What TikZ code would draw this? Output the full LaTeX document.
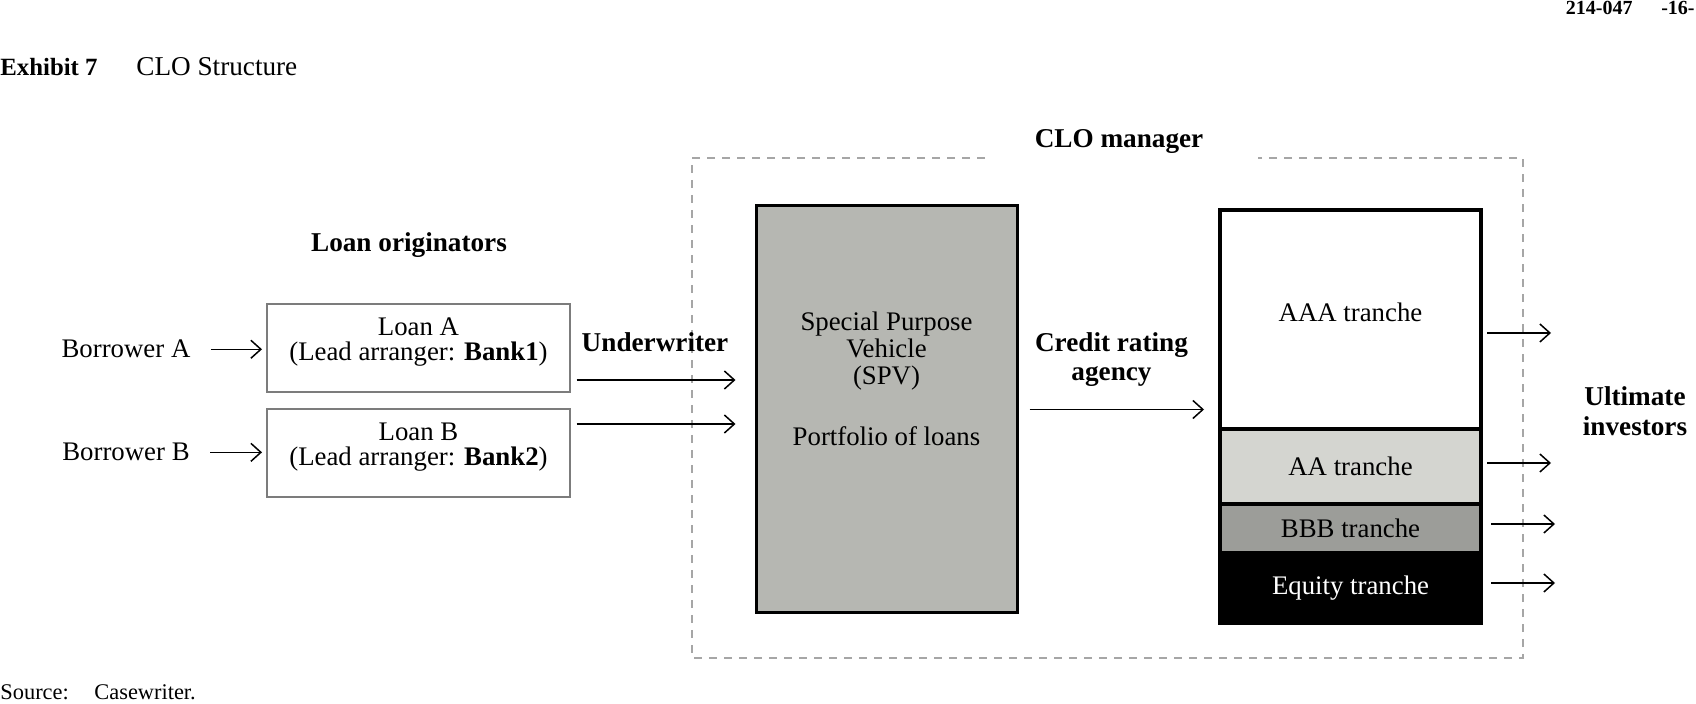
\documentclass[tikz,border=0pt]{standalone}
\usepackage{fontspec}
\setmainfont{Liberation Serif}
\usetikzlibrary{positioning, arrows.meta}
\definecolor{spvgray}{HTML}{B6B7B2}
\definecolor{aagray}{HTML}{D4D5D0}
\definecolor{bbbgray}{HTML}{9C9D99}
\definecolor{framegray}{HTML}{A6A6A6}
\definecolor{loangray}{HTML}{7C7C7C}
\tikzset{
	bodytext/.style={font=\fontsize{13.4}{13.5}\selectfont, inner sep=0pt, align=center}
}
\tikzset{
	headtext/.style={font=\fontsize{13.6}{14.5}\selectfont\bfseries, inner sep=0pt, align=center}
}
\tikzset{
	notetext/.style={font=\fontsize{11.2}{12}\selectfont, inner sep=0pt}
}
\tikzset{
	loantext/.style={bodytext, font=\fontsize{13.4}{12.2}\selectfont, yshift=3pt}
}
\tikzset{
	loanbox/.style={draw=loangray, line width=1pt, minimum width=151.5pt, minimum height=44pt}
}
\tikzset{
	tranche/.style={bodytext, draw=black, line width=1.6pt, outer sep=0pt, minimum width=130.5pt}
}
\tikzset{
	flowarrow/.style={-{Straight Barb[length=5pt,width=9pt]}, line width=0.75pt}
}
\tikzset{
	framedash/.style={draw=framegray, line width=0.85pt, dash pattern=on 4pt off 3.5pt}
}

\begin{document}
\begin{tikzpicture}[x=0.5pt, y=-0.5pt]
	\useasboundingbox (0,0) rectangle (1696,704);

	% header and caption
	\node[notetext, font=\fontsize{10}{12}\selectfont\bfseries, anchor=base east] (case) at (1633,15) {214-047};
	\node[notetext, font=\fontsize{10}{12}\selectfont\bfseries, anchor=base east] (page) at (1695,15) {-16-};
	\node[notetext, font=\fontsize{12.4}{13}\selectfont\bfseries, anchor=base west] (exh) at (0,76) {Exhibit 7};
	\node[notetext, font=\fontsize{13.6}{14}\selectfont, anchor=base west] (ttl) at (136,76) {CLO Structure};
	\node[notetext, anchor=base west] (src) at (0,699) {Source:};
	\node[notetext, anchor=base west] (srcname) at (94,699) {Casewriter.};

	% CLO manager frame
	\draw[framedash] (985,158) -- (692,158) -- (692,658) -- (1523,658) -- (1523,158) -- (1258,158);
	\node[headtext, anchor=base] (mgr) at (1119,148) {CLO manager};

	% originators
	\node[headtext, anchor=base] (orig) at (409,252) {Loan originators};
	\node[loanbox, label={[loantext]center:{Loan A\\(Lead arranger: \textbf{Bank1})}}] (loanA) at (418.5,348) {};
	\node[loanbox, below=7.5pt of loanA, label={[loantext]center:{Loan B\\(Lead arranger: \textbf{Bank2})}}] (loanB) {};
	\node[bodytext, anchor=base] (borA) at (126,358) {Borrower A};
	\node[bodytext, anchor=base] (borB) at (126,461) {Borrower B};

	\draw[flowarrow, shorten <=10pt, shorten >=2pt] (borA.east) -- (borA.east -| loanA.west);
	\draw[flowarrow, shorten <=10pt, shorten >=2pt] (borB.east) -- (borB.east -| loanB.west);

	% SPV
	\node[draw=black, line width=1.5pt, fill=spvgray, minimum width=130.5pt, minimum height=203.5pt] (spv) at (886.5,409.5) {};
	\node[bodytext] (spvtext) at ([yshift=15.25pt]spv.center) {Special Purpose\\Vehicle\\(SPV)\\[17pt]Portfolio of loans};

	\node[headtext, anchor=base] (uw) at (655,352) {Underwriter};
	\draw[flowarrow, shorten >=9.5pt] ([shift={(2.75pt,6.5pt)}]loanA.south east) coordinate (uwA) -- (uwA -| spv.west);
	\draw[flowarrow, shorten >=9.5pt] ([shift={(2.75pt,-8pt)}]loanB.north east) coordinate (uwB) -- (uwB -| spv.west);

	% tranches
	\node[tranche, minimum height=109.5pt, anchor=north, label={[bodytext, yshift=3.75pt]center:AAA tranche}] (tAAA) at (1350.5,210) {};
	\node[tranche, minimum height=37.5pt, fill=aagray, below=0pt of tAAA] (tAA) {AA tranche};
	\node[tranche, minimum height=24.5pt, fill=bbbgray, below=0pt of tAA] (tBBB) {BBB tranche};
	\node[tranche, minimum height=35pt, fill=black, text=white, below=0pt of tBBB] (tEq) {Equity tranche};

	\node[headtext] (cra) at (1111.5,360) {Credit rating\\agency};
	\draw[flowarrow, shorten <=5.5pt, shorten >=8pt] (spv.east) -- (spv.east -| tAAA.west);

	% investors
	\node[headtext, font=\fontsize{13.6}{15}\selectfont\bfseries] (inv) at (1635,411) {Ultimate\\investors};
	\foreach \t/\dx/\dy in {tAAA/3pt/-6.75pt, tAA/3pt/1.75pt, tBBB/5pt/2.25pt, tEq/5pt/2.5pt}
		\draw[flowarrow] ([shift={(\dx,\dy)}]\t.east) -- ++(32pt,0pt);

\end{tikzpicture}
\end{document}
